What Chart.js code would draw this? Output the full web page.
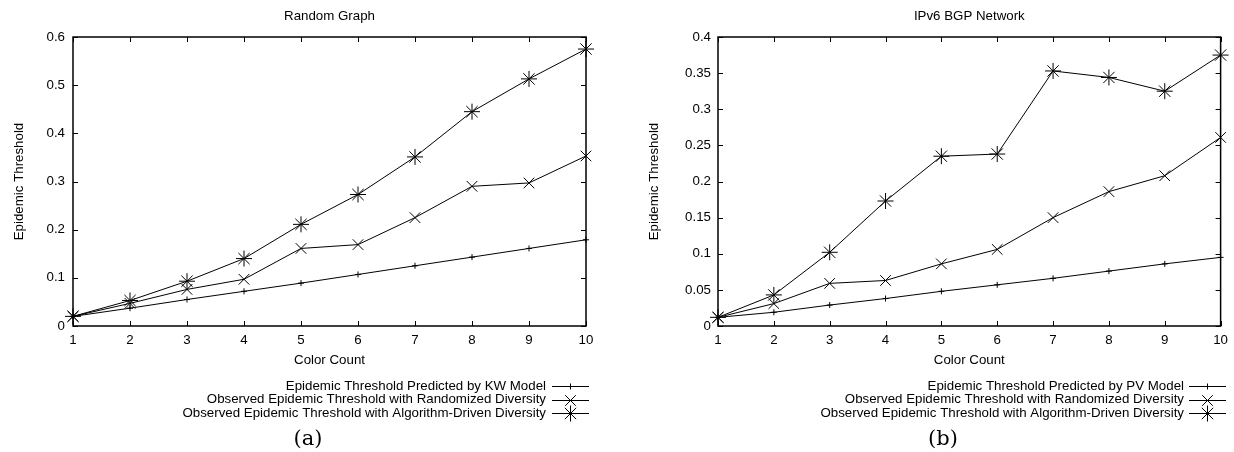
<!DOCTYPE html>
<html><head><meta charset="utf-8">
<script src="https://cdn.jsdelivr.net/npm/chart.js@4/dist/chart.umd.min.js"></script>
<style>
html,body{margin:0;padding:0;background:#fff;}
#wrap{position:relative;width:1234px;height:452px;overflow:hidden;}
.panel{position:absolute;top:0;width:617px;height:452px;}
.cap{position:absolute;top:438px;font-family:"DejaVu Serif",serif;font-size:21px;color:#000;transform:translate(-50%,-50%);line-height:1;}
</style></head><body>
<div id="wrap">
<div class="panel" style="left:0"><canvas id="c1" width="617" height="452" style="width:617px;height:452px"></canvas></div>
<div class="panel" style="left:617px"><canvas id="c2" width="617" height="452" style="width:617px;height:452px"></canvas></div>
<div class="cap" style="left:308px">(a)</div>
<div class="cap" style="left:943px">(b)</div>
</div>
<script>
// ---------- data ----------
const colorCounts = ['1','2','3','4','5','6','7','8','9','10'];

const rgTitle = 'Random Graph';
const rgKW     = [0.020,0.037,0.055,0.072,0.089,0.107,0.125,0.143,0.161,0.179];
const rgRandom = [0.020,0.047,0.076,0.097,0.161,0.169,0.225,0.290,0.297,0.353];
const rgAlgo   = [0.020,0.053,0.093,0.140,0.211,0.273,0.351,0.445,0.513,0.575];
const rgYTicks  = [0,0.1,0.2,0.3,0.4,0.5,0.6];
const rgYLabels = ['0','0.1','0.2','0.3','0.4','0.5','0.6'];
const rgNames = ['Epidemic Threshold Predicted by KW Model',
                 'Observed Epidemic Threshold with Randomized Diversity',
                 'Observed Epidemic Threshold with Algorithm-Driven Diversity'];

const bgpTitle = 'IPv6 BGP Network';
const bgpPV     = [0.012,0.019,0.029,0.038,0.048,0.057,0.066,0.076,0.086,0.095];
const bgpRandom = [0.012,0.031,0.059,0.063,0.086,0.106,0.150,0.186,0.208,0.261];
const bgpAlgo   = [0.012,0.043,0.102,0.173,0.235,0.238,0.353,0.344,0.325,0.375];
const bgpYTicks  = [0,0.05,0.1,0.15,0.2,0.25,0.3,0.35,0.4];
const bgpYLabels = ['0','0.05','0.1','0.15','0.2','0.25','0.3','0.35','0.4'];
const bgpNames = ['Epidemic Threshold Predicted by PV Model',
                  'Observed Epidemic Threshold with Randomized Diversity',
                  'Observed Epidemic Threshold with Algorithm-Driven Diversity'];

const xTitle = 'Color Count';
const yTitle = 'Epidemic Threshold';

// ---------- styles ----------
const FONT = '"Liberation Sans", Arial, Helvetica, sans-serif';
const FS = 13.3;
Chart.defaults.font.family = FONT;
Chart.defaults.font.size = FS;
Chart.defaults.color = '#000';

const markers = [
  {pointStyle:'cross',    radius:3},
  {pointStyle:'crossRot', radius:7.5},
  {pointStyle:'star',     radius:8}
];

function drawMarker(ctx, m, x, y){
  ctx.save();
  ctx.strokeStyle = '#000'; ctx.lineWidth = 1;
  if (Chart.helpers && Chart.helpers.drawPoint) {
    Chart.helpers.drawPoint(ctx, {pointStyle:m.pointStyle, radius:m.radius, borderWidth:1, rotation:0}, x, y);
  }
  ctx.restore();
}

function framePlugin(title, names, legend){
  return {
    id:'gnuFrame',
    beforeDatasetsDraw(chart){
      const ctx = chart.ctx, a = chart.chartArea;
      const xs = chart.scales.x, ys = chart.scales.y;
      ctx.save();
      ctx.strokeStyle = '#000';
      ctx.lineWidth = 1;
      ctx.beginPath();
      const tl = 5;
      xs.ticks.forEach((t,i)=>{
        const px = Math.round(xs.getPixelForTick(i)) + 0.5;
        ctx.moveTo(px, a.bottom); ctx.lineTo(px, a.bottom - tl);
        ctx.moveTo(px, a.top);    ctx.lineTo(px, a.top + tl);
      });
      ys.ticks.forEach(t=>{
        const py = Math.round(ys.getPixelForValue(t.value)) + 0.5;
        ctx.moveTo(a.left, py);  ctx.lineTo(a.left + tl, py);
        ctx.moveTo(a.right, py); ctx.lineTo(a.right - tl, py);
      });
      ctx.stroke();
      ctx.lineWidth = 1.5;
      ctx.strokeRect(a.left, a.top, a.right - a.left, a.bottom - a.top);
      ctx.restore();
    },
    afterDraw(chart){
      const ctx = chart.ctx, a = chart.chartArea;
      ctx.save();
      ctx.fillStyle = '#000';
      ctx.font = FS + 'px ' + FONT;
      ctx.textAlign = 'center';
      ctx.textBaseline = 'middle';
      ctx.fillText(title, (a.left + a.right)/2, 16);
      // legend
      ctx.textAlign = 'right';
      names.forEach((n,i)=>{
        const y = legend.rows[i];
        ctx.fillText(n, legend.textRight, y);
        ctx.beginPath();
        ctx.strokeStyle = '#000'; ctx.lineWidth = 1;
        const ly = Math.round(y) + 0.5;
        ctx.moveTo(legend.x1, ly); ctx.lineTo(legend.x2, ly);
        ctx.stroke();
        drawMarker(ctx, markers[i], (legend.x1 + legend.x2)/2, ly);
      });
      ctx.restore();
    }
  };
}

function makeDataset(label, data, i){
  return {
    label, data,
    borderColor:'#000', borderWidth:1, tension:0, fill:false,
    pointStyle: markers[i].pointStyle, pointRadius: markers[i].radius,
    pointHoverRadius: markers[i].radius,
    pointBorderColor:'#000', pointBackgroundColor:'rgba(0,0,0,0)', pointBorderWidth:1,
    clip:false
  };
}

function makeChart(id, cfg){
  return new Chart(document.getElementById(id), {
    type:'line',
    data:{
      labels: colorCounts,
      datasets: cfg.series.map((s,i)=>makeDataset(cfg.names[i], s, i))
    },
    options:{
      responsive:false, animation:false,
      layout:{padding:{top:37, right:cfg.padRight, bottom:82, left:0}},
      plugins:{legend:{display:false}, tooltip:{enabled:false}, title:{display:false}},
      events:[],
      scales:{
        x:{
          type:'category', offset:false,
          grid:{display:false, drawTicks:false}, border:{display:false},
          ticks:{padding:6, maxRotation:0, autoSkip:false, color:'#000', font:{size:FS}},
          title:{display:true, text:xTitle, color:'#000', font:{size:FS}, padding:{top:0, bottom:2}},
          afterFit(s){ s.height = 44; }
        },
        y:{
          type:'linear', min:0, max:cfg.yMax,
          grid:{display:false, drawTicks:false}, border:{display:false},
          afterBuildTicks(s){ s.ticks = cfg.yTicks.map(v=>({value:v})); },
          ticks:{padding:cfg.tickPad, color:'#000', font:{size:FS},
                 callback:(v,i)=>cfg.yLabels[i]},
          title:{display:true, text:yTitle, color:'#000', font:{size:FS}, padding:{top:cfg.titlePad, bottom:0}},
          afterFit(s){ s.width = cfg.yWidth; }
        }
      }
    },
    plugins:[framePlugin(cfg.title, cfg.names, cfg.legend)]
  });
}

makeChart('c1', {
  series:[rgKW, rgRandom, rgAlgo], names: rgNames, title: rgTitle,
  yMax:0.6, yTicks: rgYTicks, yLabels: rgYLabels,
  yWidth:73, padRight:31, tickPad:8, titlePad:11,
  legend:{rows:[386,399.5,413], textRight:546, x1:552, x2:589}
});
makeChart('c2', {
  series:[bgpPV, bgpRandom, bgpAlgo], names: bgpNames, title: bgpTitle,
  yMax:0.4, yTicks: bgpYTicks, yLabels: bgpYLabels,
  yWidth:101, padRight:11, tickPad:7, titlePad:29,
  legend:{rows:[386,399.5,413], textRight:567, x1:572, x2:609}
});
</script>
</body></html>
